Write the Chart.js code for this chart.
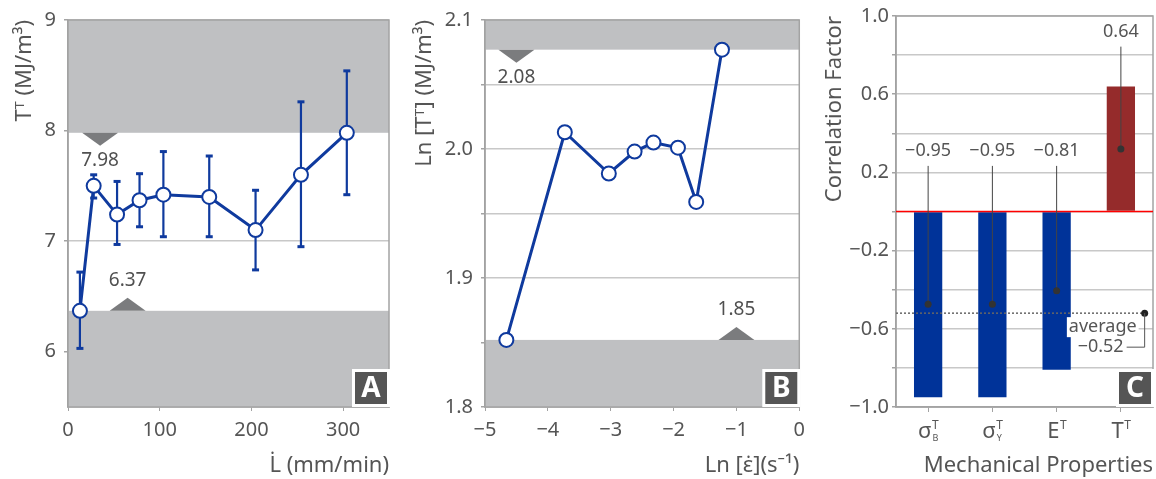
<!DOCTYPE html>
<html>
<head>
<meta charset="utf-8">
<script src="https://cdn.jsdelivr.net/npm/chart.js@4"></script>
<style>
  body { margin: 0; background: #fff; width: 1156px; height: 479px; position: relative; overflow: hidden; }
  canvas { position: absolute; top: 0; }
</style>
</head>
<body>
<canvas id="chartA" width="400" height="479" style="left:0px"></canvas>
<canvas id="chartB" width="412" height="479" style="left:400px"></canvas>
<canvas id="chartC" width="346" height="479" style="left:810px"></canvas>
<script>
// Panel A: toughness vs loading rate
const rateA = [13, 28, 53.5, 78, 104, 154, 204.5, 254, 304];
const toughA = [6.37, 7.50, 7.24, 7.37, 7.42, 7.40, 7.10, 7.60, 7.98];
const errHighA = [6.72, 7.60, 7.54, 7.61, 7.81, 7.77, 7.46, 8.26, 8.54];
const errLowA = [6.03, 7.39, 6.97, 7.13, 7.04, 7.04, 6.74, 6.95, 7.42];
const xTicksA = [0, 100, 200, 300];
const yTicksA = [6, 7, 8, 9];
const limitsA = [7.98, 6.37];

// Panel B: ln toughness vs ln strain rate
const lnRateB = [-4.66, -3.73, -3.03, -2.62, -2.32, -1.93, -1.64, -1.23];
const lnToughB = [1.852, 2.013, 1.981, 1.998, 2.005, 2.001, 1.959, 2.077];
const limitsB = [2.077, 1.852];

// Panel C: correlation factors
const propMainC = ['σ', 'σ', 'E', 'T'];
const propSubC = ['B', 'Y', '', ''];
const corrC = [-0.95, -0.95, -0.81, 0.64];
const averageC = -0.52;

const TEXT = '#555555';
const GRID = '#c8c8c8';
const AXIS = '#a3a3a3';
const BAND = '#bfc0c2';
const MARK = '#7b7c7e';
const BLUE = '#0f3a9e';
const FONT = "'Noto Sans', 'Open Sans', 'DejaVu Sans', sans-serif";

Chart.defaults.font.family = FONT;
Chart.defaults.color = TEXT;

function signed(v, d) {
    const s = Math.abs(v).toFixed(d);
    return v < -1e-9 ? '\u2212' + s : s;
}

function drawBands(chart, upper, lower) {
    const { ctx, chartArea: a, scales: { y } } = chart;
    const yu = y.getPixelForValue(upper);
    const yl = y.getPixelForValue(lower);
    ctx.save();
    ctx.fillStyle = BAND;
    ctx.fillRect(a.left, a.top, a.width, yu - a.top);
    ctx.fillRect(a.left, yl, a.width, a.bottom - yl);
    ctx.restore();
}

function drawFrame(chart) {
    const { ctx, chartArea: a } = chart;
    ctx.save();
    ctx.strokeStyle = AXIS;
    ctx.lineWidth = 1.5;
    ctx.strokeRect(a.left, a.top, a.width, a.height);
    ctx.restore();
}

// triangle marker sitting on a band edge, dir 1 = points down
function drawMarker(chart, xVal, yVal, dir, text) {
    const { ctx, scales: { x, y } } = chart;
    const px = x.getPixelForValue(xVal);
    const py = y.getPixelForValue(yVal);
    ctx.save();
    ctx.fillStyle = MARK;
    ctx.beginPath();
    ctx.moveTo(px - 18, py);
    ctx.lineTo(px + 18, py);
    ctx.lineTo(px, py + dir * 13);
    ctx.closePath();
    ctx.fill();
    ctx.fillStyle = '#505050';
    ctx.font = '19px ' + FONT;
    ctx.textAlign = 'center';
    ctx.textBaseline = 'middle';
    ctx.fillText(text, px, py + dir * (dir > 0 ? 28 : 30));
    ctx.restore();
}

function drawTag(chart, letter) {
    const { ctx, chartArea: a } = chart;
    const s = 32;
    const x = a.right - 2 - s;
    const y = a.bottom - 3 - s;
    ctx.save();
    ctx.fillStyle = '#fff';
    ctx.fillRect(x - 3, y - 3, s + 6, s + 6);
    ctx.fillStyle = '#555555';
    ctx.fillRect(x, y, s, s);
    ctx.fillStyle = '#fff';
    ctx.font = 'bold 28px ' + FONT;
    ctx.textAlign = 'center';
    ctx.textBaseline = 'middle';
    ctx.fillText(letter, x + s / 2, y + s / 2 + 1);
    ctx.restore();
}

function yAxis(width, min, max, title, extra) {
    return Object.assign({
        min: min,
        max: max,
        afterFit: s => { s.width = width; },
        ticks: { font: { size: 20 }, color: TEXT, padding: 8 },
        grid: { color: GRID, lineWidth: 1.5, tickLength: 4, tickColor: AXIS },
        border: { color: AXIS, width: 1.5 },
        title: { display: true, text: title, align: 'end', color: TEXT, font: { size: 22 }, padding: { top: 12, bottom: 0 } },
    }, extra);
}

function xAxis(title, extra) {
    return Object.assign({
        afterFit: s => { s.height = 72; },
        ticks: { font: { size: 20 }, color: TEXT, padding: 7 },
        grid: { drawOnChartArea: false, tickLength: 4, color: AXIS },
        border: { color: AXIS, width: 1.5 },
        title: { display: true, text: title, align: 'end', color: TEXT, font: { size: 22 }, padding: { top: 0, bottom: 0 } },
    }, extra);
}

const baseOptions = {
    responsive: false,
    animation: false,
    plugins: { legend: { display: false }, tooltip: { enabled: false } },
};

// ---- Panel A
new Chart(document.getElementById('chartA'), {
    type: 'line',
    data: {
        datasets: [{
            data: rateA.map((x, i) => ({ x: x, y: toughA[i] })),
            borderColor: BLUE,
            borderWidth: 3,
            pointRadius: 7,
            pointBorderWidth: 2,
            pointBackgroundColor: '#fff',
            pointBorderColor: BLUE,
            tension: 0,
        }],
    },
    options: Object.assign({}, baseOptions, {
        layout: { padding: { top: 16, right: 11, left: 0, bottom: 0 } },
        scales: {
            x: xAxis('L\u0307 (mm/min)', {
                type: 'linear', min: 0, max: 350,
                afterBuildTicks: s => { s.ticks = xTicksA.map(v => ({ value: v })); },
            }),
            y: yAxis(68, 5.5, 9, 'T\u1D40 (MJ/m\u00B3)', {
                afterBuildTicks: s => { s.ticks = yTicksA.map(v => ({ value: v })); },
            }),
        },
    }),
    plugins: [{
        id: 'panelA',
        beforeDatasetsDraw(chart) {
            drawBands(chart, limitsA[0], limitsA[1]);
            drawFrame(chart);
            drawMarker(chart, 35, limitsA[0], 1, limitsA[0].toFixed(2));
            drawMarker(chart, 65, limitsA[1], -1, limitsA[1].toFixed(2));
            const { ctx, scales: { x, y } } = chart;
            ctx.save();
            ctx.strokeStyle = BLUE;
            ctx.fillStyle = BLUE;
            ctx.lineWidth = 2.2;
            rateA.forEach((r, i) => {
                const px = x.getPixelForValue(r);
                const y1 = y.getPixelForValue(errHighA[i]);
                const y2 = y.getPixelForValue(errLowA[i]);
                ctx.beginPath();
                ctx.moveTo(px, y1);
                ctx.lineTo(px, y2);
                ctx.stroke();
                ctx.fillRect(px - 3.5, y1 - 1.5, 7, 3);
                ctx.fillRect(px - 3.5, y2 - 1.5, 7, 3);
            });
            ctx.restore();
        },
        afterDraw(chart) {
            drawTag(chart, 'A');
        },
    }],
});

// ---- Panel B
new Chart(document.getElementById('chartB'), {
    type: 'line',
    data: {
        datasets: [{
            data: lnRateB.map((x, i) => ({ x: x, y: lnToughB[i] })),
            borderColor: BLUE,
            borderWidth: 3,
            pointRadius: 7,
            pointBorderWidth: 2,
            pointBackgroundColor: '#fff',
            pointBorderColor: BLUE,
            tension: 0,
        }],
    },
    options: Object.assign({}, baseOptions, {
        layout: { padding: { top: 16, right: 6, left: 0, bottom: 0 } },
        scales: {
            x: xAxis('Ln [\u03B5\u0307](s\u207B\u00B9)', {
                type: 'linear', min: -5, max: 0,
                ticks: { font: { size: 20 }, color: TEXT, padding: 7, stepSize: 1, callback: v => signed(v, 0) },
            }),
            y: yAxis(85, 1.8, 2.1, 'Ln [T\u1D40] (MJ/m\u00B3)', {
                ticks: {
                    font: { size: 20 }, color: TEXT, padding: 8, stepSize: 0.05,
                    callback: v => Math.abs(v * 10 - Math.round(v * 10)) < 1e-6 ? v.toFixed(1) : '',
                },
            }),
        },
    }),
    plugins: [{
        id: 'panelB',
        beforeDatasetsDraw(chart) {
            drawBands(chart, limitsB[0], limitsB[1]);
            drawFrame(chart);
            drawMarker(chart, -4.5, limitsB[0], 1, limitsB[0].toFixed(2));
            drawMarker(chart, -1, limitsB[1], -1, limitsB[1].toFixed(2));
        },
        afterDraw(chart) {
            drawTag(chart, 'B');
        },
    }],
});

// ---- Panel C
new Chart(document.getElementById('chartC'), {
    type: 'bar',
    data: {
        labels: propMainC.map((m, i) => m + propSubC[i]),
        datasets: [{
            data: corrC,
            backgroundColor: corrC.map(v => v < 0 ? '#003399' : '#952b2b'),
            barPercentage: 0.44,
            categoryPercentage: 1,
        }],
    },
    options: Object.assign({}, baseOptions, {
        layout: { padding: { top: 16, right: 3, left: 0, bottom: 0 } },
        scales: {
            x: xAxis('Mechanical Properties', {
                type: 'category',
                offset: true,
                grid: { drawOnChartArea: false, tickLength: 5, color: AXIS, offset: false },
                ticks: { callback: () => '', padding: 0 },
            }),
            y: yAxis(86, -1, 1, 'Correlation Factor', {
                ticks: {
                    font: { size: 20 }, color: TEXT, padding: 3, stepSize: 0.2,
                    callback: v => Math.round((1 - v) / 0.2) % 2 === 0 ? signed(v, 1) : '',
                },
            }),
        },
    }),
    plugins: [{
        id: 'panelC',
        beforeDatasetsDraw(chart) {
            drawFrame(chart);
        },
        afterDatasetsDraw(chart) {
            const { ctx, chartArea: a, scales: { x, y } } = chart;
            ctx.save();
            // zero line
            const y0 = y.getPixelForValue(0);
            ctx.strokeStyle = '#ff0000';
            ctx.lineWidth = 1.5;
            ctx.beginPath();
            ctx.moveTo(a.left, y0);
            ctx.lineTo(a.right, y0);
            ctx.stroke();

            // value labels with leader lines down to the bar middle
            ctx.font = '18px ' + FONT;
            ctx.textAlign = 'center';
            ctx.textBaseline = 'middle';
            corrC.forEach((v, i) => {
                const px = x.getPixelForValue(i);
                const ly = y.getPixelForValue(v < 0 ? 0.31 : 0.92);
                const my = y.getPixelForValue(v / 2);
                ctx.strokeStyle = '#444';
                ctx.lineWidth = 1;
                ctx.beginPath();
                ctx.moveTo(px, ly + 15);
                ctx.lineTo(px, my);
                ctx.stroke();
                ctx.fillStyle = '#333';
                ctx.beginPath();
                ctx.arc(px, my, 3.5, 0, Math.PI * 2);
                ctx.fill();
                ctx.fillStyle = TEXT;
                ctx.fillText(signed(v, 2), px, ly);
            });

            // average line and callout
            const ya = y.getPixelForValue(averageC);
            const xe = x.getPixelForValue(3.37);
            ctx.strokeStyle = '#666';
            ctx.lineWidth = 1.5;
            ctx.setLineDash([2, 2]);
            ctx.beginPath();
            ctx.moveTo(a.left, ya);
            ctx.lineTo(xe, ya);
            ctx.stroke();
            ctx.setLineDash([]);
            ctx.fillStyle = '#222';
            ctx.beginPath();
            ctx.arc(xe, ya, 3.5, 0, Math.PI * 2);
            ctx.fill();
            ctx.strokeStyle = '#555';
            ctx.lineWidth = 1;
            ctx.beginPath();
            ctx.moveTo(xe, ya);
            ctx.lineTo(xe, ya + 34);
            ctx.lineTo(xe - 18, ya + 34);
            ctx.stroke();
            ctx.textAlign = 'right';
            const w = ctx.measureText('average').width;
            ctx.fillStyle = '#fff';
            ctx.fillRect(xe - 8 - w - 2, ya + 4, w + 4, 20);
            ctx.fillStyle = TEXT;
            ctx.fillText('average', xe - 8, ya + 14);
            ctx.fillText(signed(averageC, 2), xe - 21, ya + 34);
            ctx.restore();
        },
        afterDraw(chart) {
            const { ctx, chartArea: a, scales: { x } } = chart;
            ctx.save();
            ctx.fillStyle = TEXT;
            ctx.textBaseline = 'alphabetic';
            ctx.textAlign = 'left';
            const base = a.bottom + 31;
            propMainC.forEach((m, i) => {
                const px = x.getPixelForValue(i);
                ctx.font = '22px ' + FONT;
                const mw = ctx.measureText(m).width;
                ctx.font = '12px ' + FONT;
                const tw = ctx.measureText('T').width;
                const left = px - (mw + tw) / 2;
                ctx.font = '22px ' + FONT;
                ctx.fillText(m, left, base);
                ctx.font = '12px ' + FONT;
                ctx.fillText('T', left + mw + 0.5, base - 9);
                if (propSubC[i]) {
                    ctx.font = '9px ' + FONT;
                    ctx.fillText(propSubC[i], left + mw + 1, base + 3);
                }
            });
            ctx.restore();
            drawTag(chart, 'C');
        },
    }],
});
</script>
</body>
</html>
